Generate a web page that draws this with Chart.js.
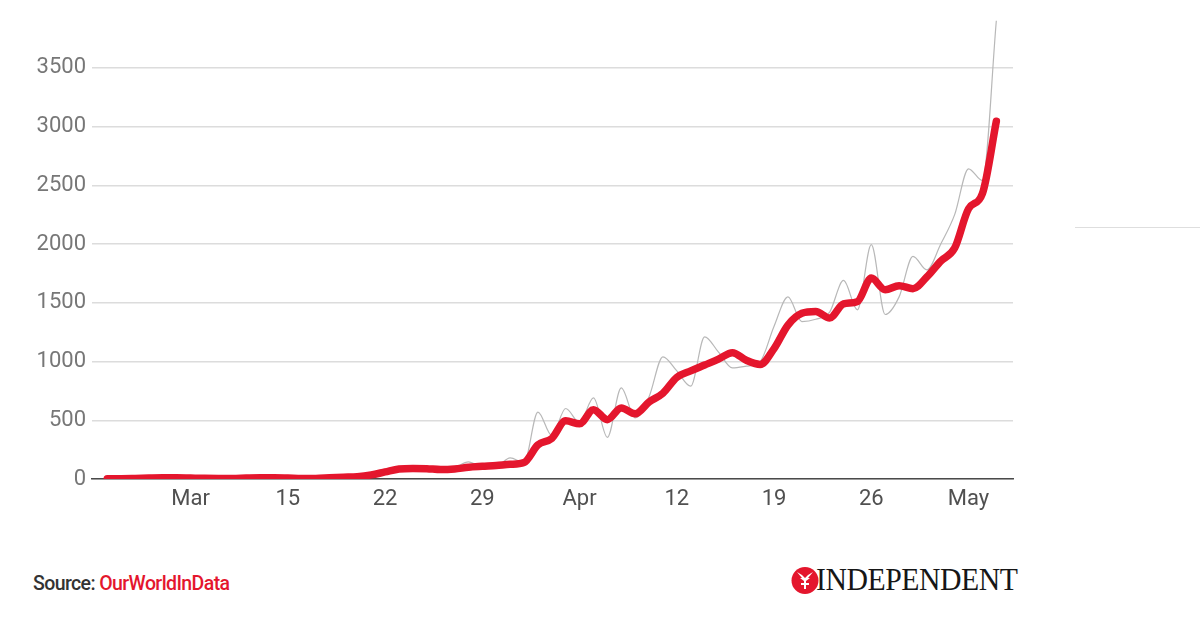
<!DOCTYPE html>
<html>
<head>
<meta charset="utf-8">
<title>Daily deaths</title>
<script src="https://cdn.jsdelivr.net/npm/chart.js@4.4.1/dist/chart.umd.min.js"></script>
<style>
  html, body { margin: 0; padding: 0; background: #fff; }
  body { width: 1200px; height: 630px; position: relative; overflow: hidden; font-family: Roboto, "Noto Sans", sans-serif; }
  #wrap { position: absolute; left: 0; top: 0; width: 1040px; height: 530px; }
  #source { position: absolute; left: 33px; top: 572px; font-size: 19.5px; color: #333; font-weight: 500; letter-spacing: -0.6px; }
  #source span { color: #e4162d; }
  #logo { position: absolute; left: 791px; top: 565px; width: 240px; height: 32px; }
  #logo-text { position: absolute; left: 25px; top: -4px; font-family: "Liberation Serif", "DejaVu Serif", serif; font-size: 32px; color: #161616; transform: scaleX(0.93); transform-origin: left center; letter-spacing: -0.5px; }
  #side-rule { position: absolute; left: 1075px; top: 227px; width: 125px; height: 1px; background: #dedede; }
</style>
</head>
<body>
<div id="wrap"><canvas id="chart"></canvas></div>
<div id="side-rule"></div>
<div id="source">Source: <span>OurWorldInData</span></div>
<div id="logo">
  <svg width="28" height="30" viewBox="0 0 28 30" style="position:absolute;left:0;top:1px">
    <circle cx="14" cy="14.5" r="13.5" fill="#e4162d"/>
    <path d="M6 6 L11 12 L9 12 L13 15 L13 17 L10 17 L10 19 L13 19 L13 23 L15 23 L15 19 L18 19 L18 17 L15 17 L15 15 L19 12 L17 12 L22 6 L17 9 L14 12 L11 9 Z" fill="#fff"/>
  </svg>
  <div id="logo-text">INDEPENDENT</div>
</div>
<script>
// day index 0 = first day shown; weekly ticks
const tickDays = [6, 13, 20, 27, 34, 41, 48, 55, 62];
const tickLabels = ['Mar', '15', '22', '29', 'Apr', '12', '19', '26', 'May'];
const yTicks = [0, 500, 1000, 1500, 2000, 2500, 3000, 3500];

// thin grey line: daily figures
const dailyDeaths = [
  2, 3, 6, 10, 12, 8, 6, 4, 5, 6,
  10, 12, 8, 6, 4, 5, 12, 18, 22, 30,
  65, 100, 95, 90, 75, 95, 145, 100, 105, 180,
  140, 570, 370, 600, 480, 690, 355, 775, 520, 700,
  1040, 920, 790, 1210, 1080, 945, 960, 1000, 1300, 1550,
  1340, 1360, 1420, 1690, 1440, 1995, 1400, 1550, 1895, 1780,
  2000, 2250, 2640, 2540, 3900
];

// thick red line: rolling average
const averageDeaths = [
  3, 3, 5, 8, 10, 10, 8, 6, 5, 5,
  8, 10, 10, 8, 5, 5, 10, 15, 20, 35,
  60, 85, 90, 88, 80, 85, 100, 108, 115, 125,
  140, 290, 345, 495, 470, 590, 505, 605, 555, 655,
  730, 865, 920, 970, 1020, 1075, 1010, 975, 1110, 1310,
  1410, 1425, 1370, 1490, 1510, 1710, 1610, 1645, 1620, 1720,
  1855, 1965, 2300, 2430, 3045
];

const toPoints = arr => arr.map((v, i) => ({ x: i, y: v }));

const ctx = document.getElementById('chart').getContext('2d');
new Chart(ctx, {
  type: 'line',
  data: {
    datasets: [
      {
        label: 'Average',
        data: toPoints(averageDeaths),
        borderColor: '#e4162d',
        borderWidth: 7.5,
        borderCapStyle: 'round',
        borderJoinStyle: 'round',
        cubicInterpolationMode: 'monotone',
        pointRadius: 0,
        fill: false
      },
      {
        label: 'Daily',
        data: toPoints(dailyDeaths),
        borderColor: '#b8b8b8',
        borderWidth: 1.2,
        cubicInterpolationMode: 'monotone',
        pointRadius: 0,
        fill: false
      }
    ]
  },
  options: {
    responsive: true,
    maintainAspectRatio: false,
    animation: false,
    layout: { padding: { top: 9, right: 27, left: 0, bottom: 0 } },
    plugins: {
      legend: { display: false },
      tooltip: { enabled: false }
    },
    scales: {
      x: {
        type: 'linear',
        min: -1.1,
        max: 65.2,
        afterBuildTicks: scale => { scale.ticks = tickDays.map(v => ({ value: v })); },
        afterFit: scale => { scale.height = 51; scale.paddingLeft = 0; scale.paddingRight = 0; },
        grid: { display: false, drawTicks: false },
        border: { display: true, color: '#4a4a4a', width: 1.5 },
        ticks: {
          autoSkip: false,
          maxRotation: 0,
          padding: 7,
          color: '#505050',
          font: { family: 'Roboto', size: 22 },
          callback: value => {
            const k = tickDays.indexOf(value);
            return k >= 0 ? tickLabels[k] : '';
          }
        }
      },
      y: {
        min: 0,
        max: 4000,
        afterBuildTicks: scale => { scale.ticks = yTicks.map(v => ({ value: v })); },
        afterFit: scale => { scale.width = 92; scale.paddingTop = 0; scale.paddingBottom = 0; },
        grid: { color: '#dcdcdc', lineWidth: 1.5, drawTicks: false },
        border: { display: false },
        ticks: {
          padding: 6,
          color: '#777',
          font: { family: 'Roboto', size: 22 },
          callback: value => String(value)
        }
      }
    }
  }
});
</script>
</body>
</html>
